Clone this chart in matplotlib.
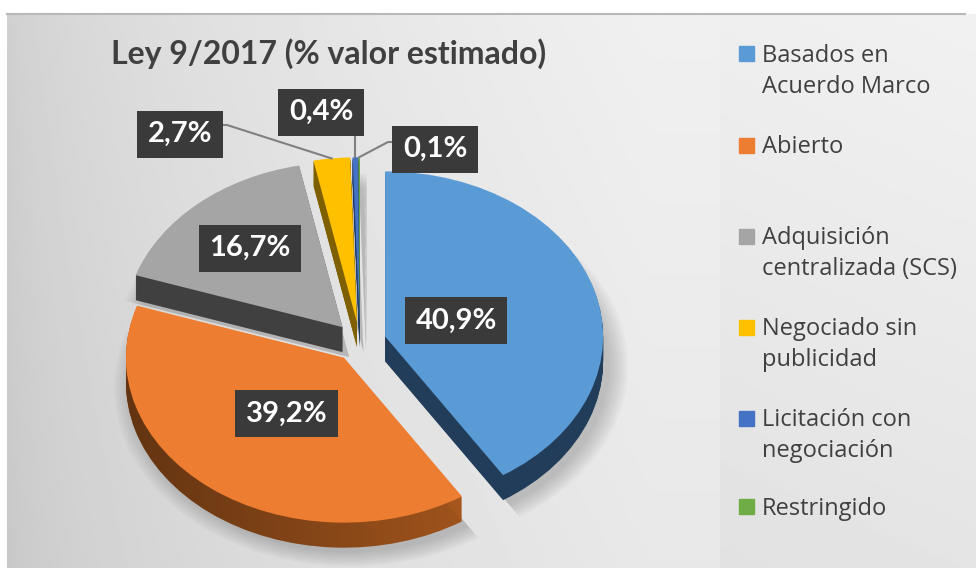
import numpy as np
import matplotlib
matplotlib.use("Agg")
import matplotlib.pyplot as plt
from matplotlib.patches import Rectangle

# data
categories = ["Basados en\nAcuerdo Marco", "Abierto", "Adquisición\ncentralizada (SCS)",
              "Negociado sin\npublicidad", "Licitación con\nnegociación", "Restringido"]
values = [40.9, 39.2, 16.7, 2.7, 0.4, 0.1]
pct_labels = ["40,9%", "39,2%", "16,7%", "2,7%", "0,4%", "0,1%"]
title = "Ley 9/2017 (% valor estimado)"

top_colors = ["#5b9bd5", "#ed7d31", "#a5a5a5", "#ffc000", "#4472c4", "#70ad47"]
side_colors = ["#213d5a", "#a4561d", "#404040", "#7f6000", "#223a66", "#385a24"]

W, H = 976, 568
fig = plt.figure(figsize=(W / 100, H / 100), dpi=100)
fig.patch.set_facecolor("white")

# background, pixel coordinates
bg = fig.add_axes([0, 0, 1, 1])
gx, gy = np.meshgrid(np.linspace(7, W, 400), np.linspace(0, 1, 240))
shade = 0.80 + 0.14 * np.sqrt(np.clip(gx / 650, 0, 1)) - 0.03 * gy
bg.imshow(shade, cmap="gray", vmin=0, vmax=1, extent=(7, W, H, 14), aspect="auto",
          interpolation="bilinear", zorder=0)
lx, ly = np.meshgrid(np.linspace(0, 1, 50), np.linspace(0, 1, 200))
panel = 0.935 - 0.05 * ly + 0.01 * lx
bg.imshow(panel, cmap="gray", vmin=0, vmax=1, extent=(720, W, H, 14), aspect="auto",
          interpolation="bilinear", zorder=1)
bg.plot([7, 965], [14, 14], color="#b8b8b8", lw=1.5, zorder=2)
bg.set_xlim(0, W)
bg.set_ylim(H, 0)
bg.axis("off")

bg.text(329, 64, title, ha="center", va="baseline", fontsize=23, fontweight="bold",
        color="#404040", family="Lato")

# legend
leg_y = [53.5, 145, 236, 327, 418, 506.5]
for i, lab in enumerate(categories):
    yc = leg_y[i]
    bg.add_patch(Rectangle((739, yc - 7.5), 15, 15, color=top_colors[i], zorder=3))
    for j, line in enumerate(lab.split("\n")):
        bg.text(762, yc + 8.2 + 31 * j, line, ha="left", va="baseline", fontsize=17,
                color="#404040", family="Open Sans", zorder=3)

# pie axes
ax = fig.add_axes([0, 0, 1, 1])
ax.patch.set_alpha(0)
cx, cy, rx, ry = 360, 342, 218, 165


def to_data(px, py):
    return (px - cx) / rx, (cy - py) / ry


explode = [0.12] * len(values)
depth = 25 / ry

# soft shadow under the pie
for k in range(8):
    ax.pie(values, colors=["black"] * len(values), explode=explode, startangle=90,
           counterclock=False, radius=1.0 + 0.012 * k, center=(0.03, -depth - 0.03),
           wedgeprops=dict(linewidth=0, alpha=0.025, zorder=0.5))

# extruded sides
bottom = None
for d in np.linspace(depth, 0, 26)[:-1]:
    w, _ = ax.pie(values, colors=side_colors, explode=explode, startangle=90,
                  counterclock=False, center=(0, -d), wedgeprops=dict(linewidth=0, zorder=1))
    if bottom is None:
        bottom = w

# darker left part on the orange side
grad = np.zeros((2, 200, 4))
grad[..., 3] = np.linspace(0.45, 0.0, 200)
im = ax.imshow(grad, extent=(-1.3, 0.6, -1.5, 0.3), aspect="auto", zorder=1.5,
               interpolation="bilinear")
im.set_clip_path(bottom[1])

ax.pie(values, colors=top_colors, explode=explode, startangle=90, counterclock=False,
       wedgeprops=dict(linewidth=0, zorder=2))

ax.set_aspect("auto")
ax.set_xlim(-cx / rx, (W - cx) / rx)
ax.set_ylim((cy - H) / ry, cy / ry)
ax.axis("off")

vals = np.array(values)
cum = np.concatenate([[0], np.cumsum(vals)[:-1]])
mids = np.deg2rad(90 - 3.6 * (cum + vals / 2))

box = dict(boxstyle="square,pad=0.36", fc="#3a3a3a", ec="none")
lab_kw = dict(ha="center", va="center", fontsize=21, fontweight="bold", color="white",
              family="Lato", bbox=box, zorder=20)

# labels inside the big slices
label_r = [0.46, 0.55, 0.76]
for i, r in enumerate(label_r):
    ax.text(r * np.cos(mids[i]), r * np.sin(mids[i]), pct_labels[i], **lab_kw)

# labels outside the thin slices, with leader lines
out_pos = [(180, 134), (321, 112), (435, 149)]
knees = [[(217, 125), (227, 125)], [None], [(398, 142), (388, 142)]]
for k, i in enumerate(range(3, 6)):
    tx, ty = (1 + explode[i]) * np.cos(mids[i]), (1 + explode[i]) * np.sin(mids[i])
    pts = []
    for kp in knees[k]:
        if kp is None:
            pts.append((tx, to_data(0, 133)[1]))
        else:
            pts.append(to_data(*kp))
    pts.append((tx, ty))
    xs, ys = zip(*pts)
    ax.plot(xs, ys, color="#808080", lw=1.5, zorder=15)
    ax.text(*to_data(*out_pos[k]), pct_labels[i], **lab_kw)

fig.savefig("out.png", dpi=100)
